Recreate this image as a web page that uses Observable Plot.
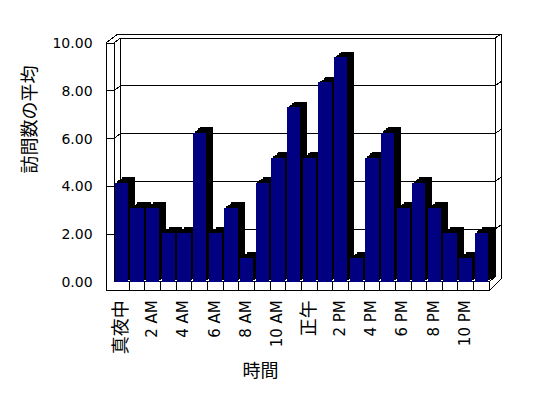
<!DOCTYPE html>
<html>
<head>
<meta charset="utf-8">
<script src="https://cdn.jsdelivr.net/npm/d3@7"></script>
<script src="https://cdn.jsdelivr.net/npm/@observablehq/plot@0.6"></script>
<style>
html, body { margin: 0; padding: 0; background: #fff; }
#chart svg { display: block; }
</style>
</head>
<body>
<div id="chart"></div>
<script>
// ---- data ----
const hours = ["真夜中","1 AM","2 AM","3 AM","4 AM","5 AM","6 AM","7 AM","8 AM","9 AM","10 AM","11 AM",
               "正午","1 PM","2 PM","3 PM","4 PM","5 PM","6 PM","7 PM","8 PM","9 PM","10 PM","11 PM"];
const visits = [4.15, 3.1, 3.1, 2.05, 2.05, 6.25, 2.05, 3.1, 1.0, 4.15, 5.2, 7.3,
                5.2, 8.35, 9.4, 1.0, 5.2, 6.25, 3.1, 4.15, 3.1, 2.05, 1.0, 2.05];
const tickHoursLatin = ["2 AM","4 AM","6 AM","8 AM","10 AM","2 PM","4 PM","6 PM","8 PM","10 PM"];
const tickHoursCJK = ["真夜中","正午"];
const yTicks = [0, 2, 4, 6, 8, 10];
const gridTicks = [2, 4, 6, 8];
const yTitle = "訪問数の平均";
const xTitle = "時間";

const data = hours.map((h, i) => ({hour: h, visits: visits[i]}));

// 3D-style walls, floor and gridlines (drawn behind the bars)
const walls = (index, scales, values, dim) => {
  const L = dim.marginLeft, R = dim.width - dim.marginRight;
  const T = dim.marginTop, B = dim.height - dim.marginBottom;
  const y = scales.y;
  const step = (R - L) / hours.length;
  const p = [];
  p.push(`M${L-7.65},${B+9}V${T}L${L+4.35},${T-9}H${R+11.75}V${B-3}L${R},${B+9}Z`);
  p.push(`M${L-7.65},${T}H${L+0.35}V${B}H${R}V${B+9}`);
  p.push(`M${L+0.35},${T}L${L+7},${T-5}H${R+5.75}V${B-5}L${R},${B}`);
  p.push(`M${R+5.75},${T-5}L${R+11.75},${T-9}`);
  p.push(`M${L+7},${T-5}V${B-5}H${R+5.75}`);
  for (const v of gridTicks) {
    const yy = y(v);
    p.push(`M${L-7.65},${yy}H${L+0.35}L${L+7},${yy-5}H${R+5.75}L${R+11.75},${yy-9}`);
  }
  for (let k = 1; k < hours.length; k++) p.push(`M${L + k*step},${B}V${B+9}`);
  const g = d3.create("svg:g");
  g.append("path")
    .attr("d", p.join(""))
    .attr("fill", "none")
    .attr("stroke", "black")
    .attr("stroke-width", 1)
    .attr("shape-rendering", "crispEdges");
  return g.node();
};

const depth = [0.25, 0.5, 0.75, 1].map(t =>
  Plot.barY(data, {x: "hour", y: "visits", fill: "black", dx: 7 * t, dy: -5.5 * t, shapeRendering: "crispEdges"})
);

const chart = Plot.plot({
  width: 548,
  height: 398,
  marginLeft: 113.65,
  marginRight: 58.75,
  marginTop: 43,
  marginBottom: 116.2,
  style: {
    fontFamily: "'DejaVu Sans', 'Noto Sans CJK JP', sans-serif",
    fontSize: "14px",
    background: "white",
    color: "black"
  },
  x: {domain: hours, paddingInner: 0.15, paddingOuter: 0.075, align: 0.5, round: false, axis: null},
  y: {domain: [0, 10], nice: false, axis: null},
  marks: [
    walls,
    ...depth,
    Plot.barY(data, {x: "hour", y: "visits", fill: "#000080", shapeRendering: "crispEdges"}),
    Plot.axisY({ticks: yTicks, tickFormat: d => d.toFixed(2), tickSize: 0, tickPadding: 21.6, label: null, fontSize: 14}),
    Plot.axisX({ticks: tickHoursLatin, tickRotate: -90, tickSize: 0, tickPadding: 18, label: null, fontSize: 15, dx: -1}),
    Plot.axisX({ticks: tickHoursCJK, tickRotate: -90, tickSize: 0, tickPadding: 18, label: null, fontSize: 18, dx: -1}),
    Plot.text([yTitle], {text: d => d, frameAnchor: "left", rotate: -90, dx: -83.5, dy: 10.5, fontSize: 18}),
    Plot.text([xTitle], {text: d => d, frameAnchor: "bottom", dx: -41.5, dy: 94.2, fontSize: 18})
  ]
});

document.getElementById("chart").appendChild(chart);
</script>
</body>
</html>
